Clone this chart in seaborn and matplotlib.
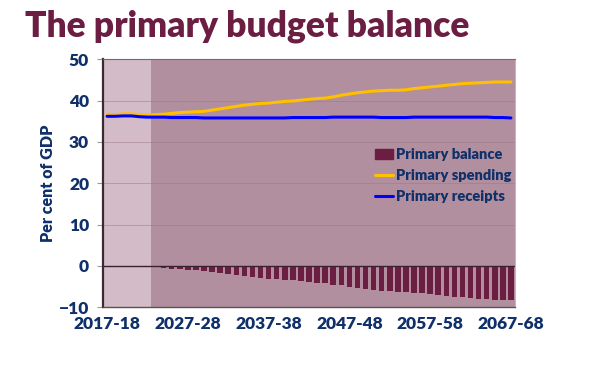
import numpy as np
import pandas as pd
import matplotlib
matplotlib.use("Agg")
import matplotlib.pyplot as plt
from matplotlib.patches import Patch
from matplotlib.lines import Line2D
import seaborn as sns

# ── Data ─────────────────────────────────────────────────────────────────────
years = [f"{y}-{(y + 1) % 100:02d}" for y in range(2017, 2068)]

primary_balance = [
    -0.15, -0.15, -0.15, -0.15, -0.15, -0.15, -0.32, -0.48, -0.64, -0.80,
    -0.89, -1.05, -1.20, -1.45, -1.70, -1.93, -2.17, -2.40, -2.70, -2.90,
    -3.06, -3.20, -3.40, -3.50, -3.60, -3.86, -4.03, -4.19, -4.51, -4.67,
    -5.15, -5.31, -5.64, -5.80, -6.12, -6.12, -6.28, -6.28, -6.44, -6.60,
    -6.76, -7.09, -7.25, -7.41, -7.57, -7.73, -7.89, -8.05, -8.21, -8.29,
    -8.29,
]
primary_spending = [
    36.7, 36.6, 36.8, 36.8, 36.6, 36.5, 36.6, 36.7, 36.9, 37.1,
    37.2, 37.3, 37.4, 37.7, 38.0, 38.3, 38.6, 38.9, 39.1, 39.3,
    39.4, 39.6, 39.8, 39.9, 40.1, 40.3, 40.5, 40.6, 40.9, 41.3,
    41.6, 41.9, 42.1, 42.3, 42.4, 42.5, 42.5, 42.6, 42.9, 43.1,
    43.3, 43.5, 43.7, 43.9, 44.1, 44.2, 44.3, 44.4, 44.5, 44.5,
    44.5,
]
primary_receipts = [
    36.2, 36.2, 36.3, 36.3, 36.1, 36.0, 36.0, 36.0, 35.9, 35.9,
    35.9, 35.9, 35.8, 35.8, 35.8, 35.8, 35.8, 35.8, 35.8, 35.8,
    35.8, 35.8, 35.8, 35.9, 35.9, 35.9, 35.9, 35.9, 36.0, 36.0,
    36.0, 36.0, 36.0, 36.0, 35.9, 35.9, 35.9, 35.9, 36.0, 36.0,
    36.0, 36.0, 36.0, 36.0, 36.0, 36.0, 36.0, 36.0, 35.9, 35.9,
    35.8,
]
outturn_years = 6          # shaded lighter region (2017-18 to 2022-23)
xtick_every = 10

# ── Style ────────────────────────────────────────────────────────────────────
sns.set_style("white")
plt.rcParams["font.family"] = ["Lato", "DejaVu Sans"]

MAROON = "#6B1E42"
NAVY = "#10306A"
GOLD = "#FFC000"
BLUE = "#0000FF"
BG_DARK = "#B28F9F"
BG_LIGHT = "#D3BCC7"
W = "heavy"

df = pd.DataFrame({
    "year": years,
    "pos": np.arange(len(years)),
    "balance": primary_balance,
    "spending": primary_spending,
    "receipts": primary_receipts,
})

fig = plt.figure(figsize=(6.0, 3.68), dpi=100)
ax = fig.add_axes([0.1717, 0.165, 0.6866, 0.674])
ax.set_facecolor(BG_DARK)
ax.axvspan(-0.5, outturn_years - 0.5, color=BG_LIGHT, zorder=0, lw=0)

for v in range(10, 51, 10):
    ax.axhline(v, color="#9C7888", lw=0.6, alpha=0.6, zorder=0.5)

sns.barplot(data=df, x="pos", y="balance", color=MAROON, width=0.68,
            saturation=1, linewidth=0, ax=ax, zorder=2)
sns.lineplot(data=df, x="pos", y="spending", color=GOLD, lw=2.2, ax=ax, zorder=3)
sns.lineplot(data=df, x="pos", y="receipts", color=BLUE, lw=2.2, ax=ax, zorder=4)
ax.axhline(0, color="#3A1F2E", lw=1.0, zorder=2.5)

ax.set_xlim(-0.5, len(years) - 0.5)
ax.set_ylim(-10, 50)
ax.set_yticks(range(-10, 51, 10))
ax.set_xticks(df["pos"][::xtick_every])
ax.set_xticklabels(df["year"][::xtick_every])
ax.set_xlabel("")
ax.set_ylabel("Per cent of GDP", color=NAVY, fontsize=11.5, fontweight=W, labelpad=2)

ax.tick_params(axis="y", length=4, width=0.8, color="#999999", pad=6,
               labelsize=12.5, labelcolor=NAVY, direction="out", left=True)
ax.tick_params(axis="x", length=0, pad=6, labelsize=12.5, labelcolor=NAVY)
for lab in ax.get_xticklabels() + ax.get_yticklabels():
    lab.set_fontweight(W)

ax.spines["left"].set_color("#3A2A33")
ax.spines["left"].set_linewidth(1.6)
ax.spines["bottom"].set_color("#555555")
ax.spines["bottom"].set_linewidth(1.0)
ax.spines["top"].set_color("#7A6570")
ax.spines["top"].set_linewidth(0.8)
ax.spines["right"].set_color("#C9B3BE")
ax.spines["right"].set_linewidth(0.8)

handles = [
    Patch(facecolor=MAROON, edgecolor=MAROON, label="Primary balance"),
    Line2D([], [], color=GOLD, lw=2.2, label="Primary spending"),
    Line2D([], [], color=BLUE, lw=2.2, label="Primary receipts"),
]
leg = ax.legend(handles=handles, loc="upper right", bbox_to_anchor=(1.005, 0.665),
                frameon=False, fontsize=10.5, handlelength=1.2, handletextpad=0.2,
                labelspacing=0.55, borderaxespad=0)
for t in leg.get_texts():
    t.set_color(NAVY)
    t.set_fontweight(W)

fig.text(0.042, 0.975, "The primary budget balance", color=MAROON,
         fontsize=25.5, fontweight=W, va="top", ha="left")

fig.savefig("out.png", dpi=100)
